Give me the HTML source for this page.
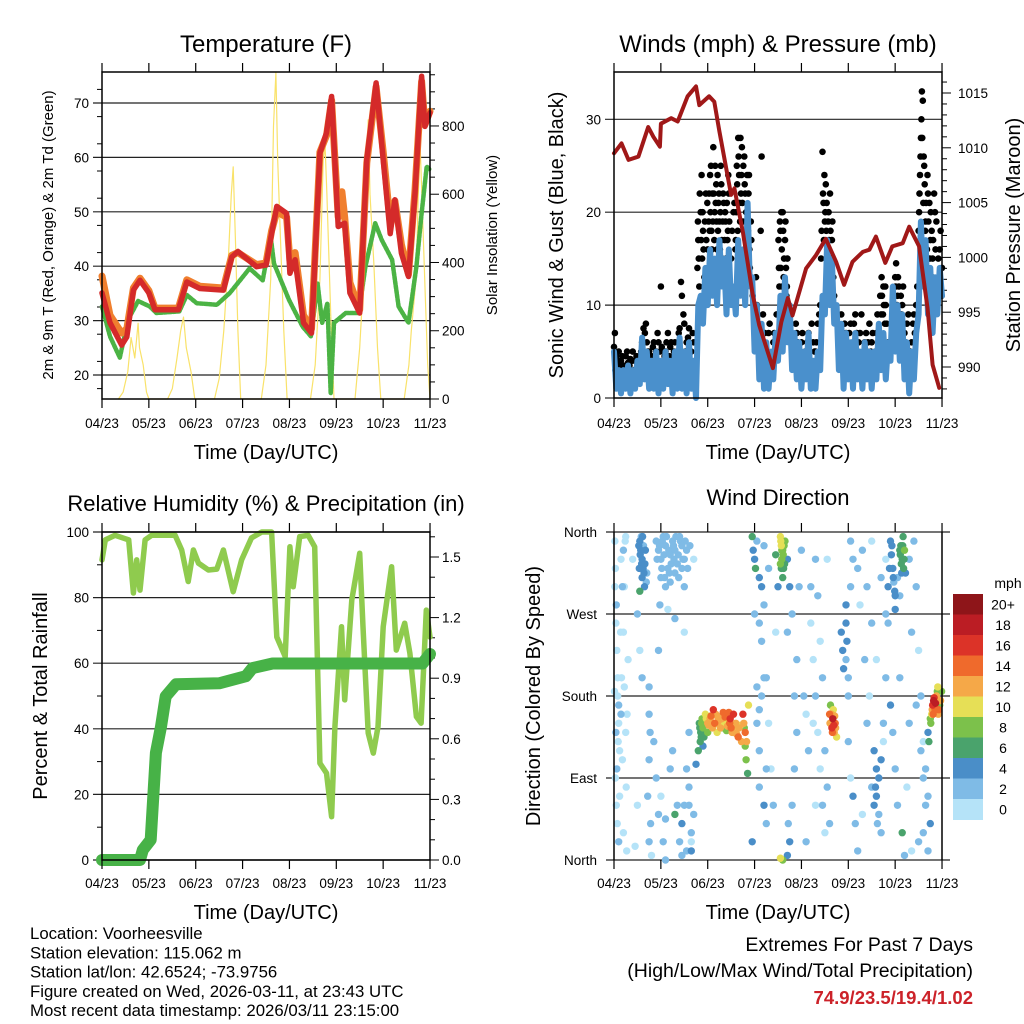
<!DOCTYPE html>
<html><head><meta charset="utf-8"><style>
html,body{margin:0;padding:0;background:#fff;}
svg{display:block;font-family:"Liberation Sans",sans-serif;}
</style></head><body>
<svg id="chart" width="1024" height="1024" viewBox="0 0 1024 1024" xmlns="http://www.w3.org/2000/svg"></svg>
<script>
// ---------- DATA ----------
const dayTicks = ["04/23","05/23","06/23","07/23","08/23","09/23","10/23","11/23"];
const tRedDay = [0,0.17,0.42,0.53,0.67,0.81,1.0,1.13,1.63,1.81,2.09,2.59,2.77,2.9,3.3,3.5,3.62,3.73,3.94,4.01,4.12,4.3,4.47,4.65,4.79,4.9,5.04,5.18,5.29,5.5,5.65,5.85,6.0,6.15,6.25,6.39,6.54,6.68,6.82,6.89,7.0];
const tRed = [35.1,29.6,25.5,27,35.6,37.4,35.1,32,32,37.1,35.9,35.6,41.7,42.7,39.9,40.2,46,51,49.7,38.7,41.2,29.6,27.7,60.8,64.5,71.2,47.3,47.9,35.1,31.4,59.6,73.7,59.6,46,52.2,42.4,38.1,53.4,74.9,65.7,68.2];
const tOrgDay = [0,0.17,0.42,0.53,0.67,0.81,1.0,1.13,1.63,1.81,2.09,2.59,2.77,2.9,3.3,3.5,3.62,3.73,3.94,4.01,4.12,4.3,4.47,4.65,4.79,4.9,5.04,5.12,5.18,5.29,5.5,5.65,5.85,6.0,6.15,6.25,6.39,6.54,6.68,6.82,6.89,7.0];
const tOrg = [38.2,31,27.7,28.5,36,37.8,35.5,32.3,32.3,37.5,36.3,36,42,42.5,40.3,40.6,46.5,50,49,41,42.5,31,28.5,61,64,70.5,49,53.7,49,37,32,59,73,61,48,52,44,38.5,54,74,66,68.5];
const tdDay = [0,0.17,0.38,0.56,0.77,1.02,1.16,1.65,1.81,2.02,2.45,2.73,3.15,3.43,3.6,3.67,3.99,4.28,4.46,4.6,4.7,4.81,4.88,4.95,5.2,5.48,5.62,5.83,5.97,6.19,6.33,6.54,6.71,6.82,6.93,7.0];
const td = [32.6,27.1,23.2,30.2,33.6,32.6,31.4,31.7,34.7,33.2,32.9,35.1,39.6,37.4,45.4,40.5,33.8,28.9,27.1,36.8,29.6,33.2,16.6,29.6,31.4,31.4,39.9,47.9,44.8,41.2,32.6,29.6,39.9,49.7,58.3,57.7];
const solDay = [0.35,0.45,0.55,0.62,0.7,0.77,0.8,0.88,0.95,1.0, 1.4,1.5,1.6,1.68,1.74,1.8,1.9,1.98, 2.4,2.5,2.6,2.7,2.76,2.8,2.85,2.9,2.96, 3.4,3.5,3.6,3.66,3.71,3.75,3.8,3.88,3.95, 4.45,4.55,4.65,4.72,4.76,4.8,4.88,4.95, 5.4,5.5,5.6,5.65,5.68,5.72,5.8,5.88,5.95, 6.45,6.55,6.6,6.7,6.75,6.79,6.85,6.9,6.95,7.0];
const sol = [0,20,80,180,120,222,150,100,20,0, 0,30,120,200,240,150,80,0, 0,60,200,420,600,680,450,200,0, 0,100,350,800,956,700,500,200,0, 0,100,350,700,740,600,250,0, 0,150,400,700,818,600,400,150,0, 0,100,200,350,600,740,500,300,100,0];
const windMph = [5,1,3,0.5,3,1,3.5,0.5,3,1,4,1.5,6.5,2,5,1,4,1,5,0.5,4,1,5,1.5,4,0.5,5,1,6.5,1,5,0.5,6,1,4,0,10,11,8,14,10,16,11,15,10,17,12,15,9,16,10,12,9,17,11,16,10,21,12,13,5,10,2,8,1,6,1,5,2,7,4,11,5,13,6,10,3,7,2,6,1,5,2,7,1,4,1,5,3,11,9,17,10,15,8,10,3,8,1,7,2,6,1,7,2,5,1,6,2,5,1,5,2,8,3,7,2,6,4,12,5,10,4,9,2,6,0.5,5,2,7,9,19,12,17,9,14,7,13,9,14,11];
const windStepDays = 0.05;
const gustDay = [0,0.02,0.05,0.1,0.15,0.2,0.25,0.3,0.35,0.4,0.45,0.5,0.55,0.6,0.63,0.66,0.7,0.75,0.8,0.85,0.9,0.95,1.0,1.02,1.08,1.12,1.15,1.2,1.25,1.3,1.35,1.4,1.43,1.45,1.5,1.55,1.6,1.65,1.7,1.78,1.8,1.82,1.85,1.88,1.9,1.93,1.96,2.0,2.02,2.05,2.08,2.1,2.12,2.15,2.18,2.2,2.23,2.25,2.28,2.3,2.33,2.35,2.38,2.4,2.43,2.45,2.5,2.55,2.6,2.62,2.65,2.68,2.7,2.72,2.75,2.78,2.8,2.83,2.85,2.88,2.9,2.93,2.96,3.0,3.03,3.05,3.1,3.13,3.15,3.18,3.2,3.25,3.3,3.35,3.4,3.45,3.5,3.52,3.55,3.58,3.6,3.62,3.65,3.68,3.7,3.75,3.8,3.85,3.9,3.95,4.0,4.05,4.1,4.15,4.2,4.25,4.3,4.35,4.4,4.42,4.45,4.47,4.5,4.52,4.55,4.58,4.6,4.65,4.7,4.75,4.8,4.85,4.9,4.95,5.0,5.05,5.1,5.15,5.2,5.25,5.3,5.35,5.4,5.45,5.5,5.55,5.6,5.7,5.72,5.75,5.78,5.8,5.85,5.9,5.95,6.0,6.02,6.05,6.08,6.1,6.15,6.2,6.25,6.3,6.35,6.4,6.45,6.5,6.52,6.54,6.56,6.57,6.58,6.6,6.62,6.65,6.7,6.75,6.8,6.85,6.9,6.95,7.0,
1.79,1.81,1.83,1.86,1.87,1.89,1.91,1.94,1.97,1.99,2.01,2.03,2.04,2.06,2.07,2.09,2.11,2.13,2.14,2.16,2.17,2.19,2.21,2.22,2.24,2.26,2.27,2.29,2.31,2.32,2.34,2.36,2.37,2.39,2.41,2.42,2.44,2.46,2.48,2.52,2.57,2.59,2.61,2.63,2.64,2.66,2.67,2.69,2.71,2.73,2.74,2.76,2.77,2.79,2.81,2.82,2.84,2.86,2.87,2.89,2.92,
3.51,3.53,3.54,3.56,3.57,3.59,3.61,3.63,3.64,3.66,3.67,3.69,
4.43,4.46,4.48,4.49,4.51,4.53,4.54,4.56,4.57,4.59,4.61,4.62,4.64,4.66,4.68,
5.68,5.71,5.74,5.76,5.79,5.82,5.98,6.01,6.04,6.06,6.09,6.12,6.14,6.17,
6.51,6.53,6.55,6.59,6.61,6.63,6.64,6.66,6.68,6.69,6.71,6.73,6.74,6.76,6.78,6.79,6.81,6.83,6.86,6.88,6.92,6.94,6.97,6.99,
0.03,0.08,0.12,0.18,0.23,0.28,0.33,0.38,0.43,0.48,0.52,0.58,0.68,0.72,0.78,0.83,0.88,0.93,0.98,1.05,1.1,1.18,1.22,1.28,1.33,1.38,1.48,1.52,1.58,1.63,1.68,
3.22,3.27,3.32,3.38,3.42,3.47,3.72,3.78,3.82,3.88,3.92,3.97,4.02,4.08,4.12,4.18,4.22,4.28,4.32,4.38,
4.72,4.78,4.82,4.88,4.92,4.98,5.02,5.08,5.12,5.18,5.22,5.28,5.32,5.38,5.42,5.48,5.52,5.58,5.62,6.22,6.28,6.32,6.38,6.42,6.47];
const gustMph = [5.5,7,4.5,5,4,3.5,4.5,3.8,4.2,5,4,3.5,4.5,6,7.5,7,6,5,4.5,6,5,6,12,5.5,4.5,6,7,5.5,4,6,5,7.5,12.5,11,8,6,7.5,5,6,14,17,12,20,15,18,13,22,16,19,24,18,22,27,20,23,16,21,19,25,17,22,14,19,13,18,22,15,20,17,25,28,21,28,24,19,26,22,15,20,24,14,17,11,8,13,10,6,18,26,9,5,4,7,3,6,5,9,14,18,16,20,13,17,11,15,8,6,5,7,4,6,3,5,7,4,6,5,8,10,15,26.5,21,19,23,16,20,14,17,11,8,6,9,5,7,4,8,6,9,5,7,4,6,5,8,6,4,7,9,11,12,8,10,6,5,9,13,14.5,11,12,9,10,7,8,4,6,9,10,18,22,26,30,33,28,21,25,19,22,17,15,20,12,16,14,
19,15,22,17,24,20,16,19,17,21,14,22,18,20,25,16,19,22,17,25,21,19,24,18,22,16,20,23,15,19,21,17,20,15,21,17,24,19,15,18,21,16,20,23,18,26,24,19,22,27,21,25,18,23,17,20,24,18,22,16,19,
17,12,19,14,20,12,18,15,11,19,14,12,
18,22,17,24,20,18,21,15,19,17,22,18,15,19,13,
11,13,9,10,12,8,11,12,10,13,8,11,9,12,
20,24,28,32,26,23,18,21,16,24,19,21,15,20,18,13,17,22,16,19,15,12,18,11,
3,4,3.5,4.5,3,5,3.5,4,3,4.5,3,5,8,5,4,5.5,4,7,5,4,5,4.5,6,5,4,7,9,5,6.5,4,7,
7,5,8,4,7,9,9,7,5,8,6,5,7,5,6,4,8,5,6,9,
9,8,7,6,8,6,7,5,8,7,6,9,5,7,6,5,7,5,9,6,9,5,8,7,12];
const presDay = [0,0.16,0.31,0.52,0.73,0.84,0.98,1.0,1.22,1.36,1.57,1.75,1.82,2.03,2.14,2.25,2.5,2.57,2.75,2.96,3.1,3.39,3.57,3.71,3.81,4.1,4.31,4.52,4.74,4.91,5.09,5.31,5.45,5.59,5.79,5.94,6.16,6.3,6.51,6.69,6.8,6.94];
const presMb = [1009.5,1010.4,1008.9,1009.2,1011.9,1011,1010.1,1012.2,1012.7,1012.4,1014.7,1015.6,1013.9,1014.7,1014.2,1011.5,1005.7,1006.3,1002.3,996.6,993.8,989.9,994.1,996.3,994.7,999,1000.2,1001.7,999.6,997.5,999.6,1000.5,1000.7,1001.9,999.5,1001,1001.3,1002.8,1001,995.4,990.2,988.1];
const rhDay = [0,0.07,0.28,0.57,0.67,0.74,0.81,0.92,1.06,1.56,1.7,1.84,1.95,2.06,2.27,2.45,2.59,2.8,2.98,3.19,3.41,3.62,3.73,3.91,4.01,4.08,4.22,4.4,4.54,4.65,4.79,4.9,4.97,5.11,5.18,5.33,5.5,5.57,5.68,5.79,5.89,6.0,6.18,6.28,6.46,6.57,6.71,6.81,6.92,7.0];
const rh = [91.5,97.6,99,97.6,81.4,91.5,82.3,97.6,99,99,94.5,84.9,94.5,90.5,88.4,88.7,94.5,81.8,91.5,98.2,100,100,68,62,95.5,83.3,98.6,99,95.5,29.5,26.5,13.2,40.6,71.1,48.8,79.3,93.5,71.1,38.7,32.6,40.6,71.1,89.4,64,72.2,63,43.7,41.7,76.2,68];
const prDay = [0,0.81,0.87,1.04,1.15,1.26,1.36,1.58,2.5,3.07,3.21,3.64,6.84,7.0];
const prIn = [0,0,0.05,0.1,0.53,0.66,0.81,0.87,0.875,0.91,0.95,0.973,0.973,1.02];
const dirDay = [0.02,0.03,0.05,0.08,0.1,0.04,0.12,0.06,0.15,0.18,0.2,0.22,0.25,0.05,0.1,0.27,0.3,0.15,0.2,0.25,
0.55,0.57,0.6,0.62,0.6,0.65,0.63,0.58,0.66,0.7,0.55,
0.5,0.55,0.6,0.75,0.75,0.77,0.75,0.72,0.78,0.75,0.8,0.5,0.45,0.4,
0.9,0.95,1.0,1.05,1.1,1.15,1.2,1.25,1.3,1.35,1.4,1.45,1.5,1.0,1.1,1.2,1.3,1.45,1.5,1.55,0.98,1.15,1.3,1.5,1.5,1.45,1.4,1.55,1.6,1.65,1.6,1.2,1.0,1.1,0.95,1.7,1.65,1.3,
1.82,1.85,1.84,1.88,1.9,1.92,1.95,2.0,2.05,2.1,2.12,2.15,2.2,2.25,2.3,2.35,2.4,2.45,2.48,2.5,2.55,2.6,2.65,2.7,2.72,2.75,2.78,2.8,2.82,2.85,2.87,2.0,2.2,2.4,2.3,1.8,1.9,1.75,
2.95,2.97,3.0,3.02,3.05,3.1,3.15,3.2,3.15,3.1,3.05,3.2,3.1,3.15,3.0,3.05,3.1,3.2,3.25,3.1,2.95,3.25,3.2,3.3,
3.55,3.57,3.6,3.58,3.62,3.55,3.65,3.6,3.5,3.45,3.7,3.75,3.8,3.7,3.6,3.55,3.7,3.75,3.72,3.8,3.85,3.9,3.85,3.9,3.95,4.0,
4.05,4.1,4.15,4.2,4.3,4.35,4.4,4.45,4.5,4.55,4.6,4.1,4.3,4.25,4.4,
4.6,4.63,4.65,4.67,4.7,4.72,4.68,4.75,4.62,
4.95,4.95,4.97,4.95,5.0,5.0,5.05,5.1,5.05,5.1,5.15,5.2,
5.3,5.4,5.5,5.6,5.55,5.6,5.65,5.6,5.65,5.7,5.75,5.5,5.7,5.8,5.8,5.4,5.3,
5.9,5.92,5.95,5.97,6.0,6.0,5.85,6.05,6.1,6.12,6.15,6.18,6.2,6.17,6.22,6.1,5.9,5.95,6.0,6.05,6.15,6.2,6.1,
6.3,6.35,6.45,6.55,6.6,6.65,6.6,6.7,6.7,6.75,6.78,6.8,6.82,6.85,6.88,6.9,6.92,6.95,6.72];
const dirDeg = [350,320,280,200,170,140,120,100,330,300,250,190,140,60,20,10,220,160,340,355,
350,340,330,320,310,300,345,355,325,315,295,
270,230,200,190,160,140,110,70,40,20,5,60,15,330,
350,340,330,355,345,320,335,350,340,325,355,345,330,310,300,305,315,320,300,340,280,275,265,250,60,40,20,10,80,30,140,100,70,45,230,330,20,50,
150,140,130,155,145,135,160,150,155,145,165,150,158,148,155,160,150,162,155,145,140,150,135,148,130,160,145,125,110,95,170,140,140,142,145,120,125,105,
355,340,330,320,350,310,300,345,180,165,190,200,260,240,270,150,120,60,40,80,20,100,280,320,
355,345,340,330,320,325,350,310,300,335,330,300,270,250,0,2,5,20,40,60,100,140,180,220,300,340,
180,160,120,260,330,290,240,200,120,80,40,20,60,150,100,
160,150,145,155,140,150,165,135,170,
280,260,240,220,200,180,300,330,350,70,40,10,
340,300,260,220,120,100,90,70,50,30,130,350,310,330,200,150,50,
350,335,320,305,290,275,260,310,340,345,330,320,340,355,315,290,170,140,100,60,30,5,200,
330,250,170,120,90,60,30,10,140,155,160,170,175,165,180,185,160,170,130];
const dirSpd = [1,1,2,1,2,2,1,2,1,2,1,1,1,1,2,1,1,2,2,1,
4,4,4,4,4,4,3,3,4,3,6,
2,1,2,3,3,3,2,2,2,2,1,1,1,1,
2,2,2,2,2,2,2,2,2,2,3,2,3,2,2,3,2,3,2,3,2,1,2,1,2,4,3,2,2,2,2,2,1,2,2,1,1,6,
7,7,6,8,8,7,11,12,13,12,16,14,12,11,13,12,10,14,16,14,13,12,14,11,12,17,8,9,8,6,10,8,10,8,8,6,5,4,
6,4,4,6,3,4,4,3,3,2,2,3,3,2,3,3,2,4,3,2,4,2,2,2,
10,10,9,8,7,9,8,6,4,6,4,4,3,2,9,10,4,4,3,2,2,2,3,2,2,2,
2,1,2,1,2,2,1,2,2,3,2,2,1,1,1,
14,12,16,18,12,14,11,10,8,
4,4,4,3,3,2,3,2,2,4,3,2,
2,2,2,1,4,4,4,4,2,2,1,1,2,1,2,2,1,
4,4,4,3,4,4,3,2,6,7,6,7,8,6,4,3,4,3,2,2,6,2,2,
3,2,2,3,2,2,2,2,4,8,10,16,18,14,12,8,12,8,6];
// additional wind-direction observations
const dirDayB = [0.02,0.04,0.06,0.08,0.1,0.03,0.07,0.12,0.14,0.16,0.18,0.2,0.22,0.24,0.26,0.28,0.01,0.09,
0.53,0.56,0.59,0.61,0.64,0.67,0.69,0.54,
0.92,0.97,1.02,1.07,1.12,1.17,1.22,1.27,1.32,1.37,1.42,1.47,1.52,1.57,1.62,1.03,1.08,1.18,1.28,1.38,
0.85,0.9,0.95,1.05,1.1,1.25,1.35,1.45,1.55,1.6,1.65,1.7,
3.25,3.3,3.35,3.4,3.45,4.2,4.25,4.3,4.35,4.45,4.5,4.55,4.85,4.88,4.9,5.0,5.05,5.2,5.25,5.35,5.45,5.5,5.55,5.58,5.62,5.7,5.75,5.8,5.85,5.88,6.4,6.45,6.5,6.55,6.6,6.65,6.7,6.75,6.5,6.35,6.25,6.3,
1.83,1.86,1.87,1.93,1.97,2.02,2.07,2.13,2.17,2.22,2.27,2.32,2.37,2.42,2.47,2.52,2.57,2.62,2.67,2.77,2.8,2.83,2.33,2.55,2.6,2.25,
4.61,4.64,4.66,4.69,4.71,4.73,
6.76,6.79,6.81,6.83,6.86,6.89,6.91,6.93,6.97,6.99,
3.56,3.58,3.61,3.63,3.57,3.64,
6.11,6.13,6.16,6.19,6.14,5.93,5.96,5.99];
const dirDegB = [300,260,230,180,150,90,40,70,250,200,110,30,300,350,80,160,185,130,
345,335,325,355,315,340,305,320,
330,345,320,335,355,340,325,345,355,335,350,330,350,320,345,350,310,315,330,310,
130,90,50,20,0,120,60,5,100,60,10,50,
200,150,100,60,250,300,220,180,140,60,30,330,250,230,210,130,90,320,280,220,180,80,60,80,40,110,150,270,300,320,350,300,230,180,130,100,70,40,20,10,80,150,
145,135,150,140,155,148,158,150,160,152,145,150,157,147,150,140,148,138,145,150,140,130,162,160,145,155,
150,160,140,148,158,145,
150,165,160,178,172,175,190,165,175,185,
350,340,335,345,320,325,
335,325,345,330,315,345,310,295];
const dirSpdB = [1,1,1,1,1,1,1,1,1,1,1,1,1,1,1,1,1,1,
4,4,4,4,4,4,3,4,
2,2,2,2,2,2,2,2,2,2,2,2,2,2,2,2,2,2,2,2,
3,2,2,3,2,2,3,2,3,3,4,2,
2,1,1,2,1,2,1,2,1,2,1,1,4,4,4,2,1,2,1,2,1,3,4,4,3,4,2,2,4,4,2,2,1,2,1,2,2,4,2,1,1,2,
6,7,8,7,10,12,14,12,13,12,12,11,14,12,15,12,12,13,12,12,14,12,15,16,10,10,
12,13,14,16,12,12,
8,12,14,16,18,12,10,14,12,8,
10,8,9,8,6,6,
6,6,7,6,4,4,4,4];
const spdColors = ["#b5e3f8","#7fbbe6","#4a8ec8","#4aa36c","#7cc14b","#e6df56","#f5a848","#ef6a2c","#dc3328","#bb1d24","#8e1519"];
const spdLabels = ["0","2","4","6","8","10","12","14","16","18","20+"];
const tempTicks = [20,30,40,50,60,70];
const solTicks = [0,200,400,600,800];
const windTicks = [0,10,20,30];
const presTicks = [990,995,1000,1005,1010,1015];
const rhTicks = [0,20,40,60,80,100];
const prTicks = ["0.0","0.3","0.6","0.9","1.2","1.5"];
const dirLabels = ["North","East","South","West","North"];

// ---------- DRAWING ----------
const NS = "http://www.w3.org/2000/svg";
const svg = document.getElementById('chart');
function mk(tag, attrs, parent){
  const e = document.createElementNS(NS, tag);
  for (const k in attrs) e.setAttribute(k, attrs[k]);
  (parent||svg).appendChild(e);
  return e;
}
function txt(str, x, y, size, anchor, parent, extra){
  const t = mk('text', Object.assign({x:x, y:y, 'font-size':size, 'text-anchor':anchor||'middle', fill:'#000'}, extra||{}), parent);
  t.textContent = str;
  return t;
}
const DAYPX = 46.86;
function line(x1,y1,x2,y2,parent,w,c){ return mk('line',{x1:x1,y1:y1,x2:x2,y2:y2,stroke:c||'#000','stroke-width':w||1},parent); }
function poly(xs, ys, fx, fy, parent, color, width){
  const pts = xs.map((d,i)=> fx(d).toFixed(1)+','+fy(ys[i]).toFixed(1)).join(' ');
  return mk('polyline',{points:pts, fill:'none', stroke:color, 'stroke-width':width, 'stroke-linejoin':'round','stroke-linecap':'round'}, parent);
}
function xAxis(g, x0, y0, y1, labelY, titleY){
  for (let i=0;i<dayTicks.length;i++){
    const x = x0 + i*DAYPX;
    line(x,y0-9,x,y0,g,1.2);
    line(x,y1,x,y1+9,g,1.2);
    const t = txt(dayTicks[i], x, labelY, 13.5, 'middle', g);
    
    
  }
  const tt = txt('Time (Day/UTC)', x0+164, titleY, 20, 'middle', g);
  
  
}
function frame(g,x0,y0,x1,y1){
  mk('rect',{x:x0,y:y0,width:x1-x0,height:y1-y0,fill:'none',stroke:'#000','stroke-width':1.5},g);
}

// ===== Panel 1: Temperature =====
(function(){
  const g = mk('g',{});
  
  
  const x0=102,x1=430,y0=72,y1=399;
  const fx = d=> x0 + d*DAYPX;
  const fy = t=> 103 + (70-t)*5.44;
  const fs = w=> 399 - w*0.3413;
  tempTicks.forEach(t=>{ line(x0-9,fy(t),x1,fy(t),g,1.2,'#222'); const l=txt(String(t), x0-13, fy(t)+5, 13.5, 'end', g);   });
  for (let t=17.5;t<76;t+=5){ if (t%10!==0) line(x0-5,fy(t),x0,fy(t),g,1); }
  for (let w=0; w<=950; w+=50){ const L = (w%200===0)?9:5; line(x1,fs(w),x1+L,fs(w),g,1); }
  solTicks.forEach(w=>{ const l=txt(String(w), x1+12, fs(w)+5, 13.5, 'start', g);   });
  const sl = poly(solDay, sol, fx, fs, g, '#f9e26a', 1.2);
  
  
  const tdl = poly(tdDay, td, fx, fy, g, '#4bb344', 4.5);
  tdl.setAttribute('stroke-dasharray','3 1.5');
  
  
  const ol = poly(tOrgDay, tOrg, fx, fy, g, '#f07f2e', 7);
  
  
  const rl = poly(tRedDay, tRed, fx, fy, g, '#d42a2a', 5.5);
  
  
  frame(g,x0,y0,x1,y1);
  xAxis(g,x0,y0,y1,428,459);
  const t1 = txt('Temperature (F)', 266, 52, 24, 'middle', g);
  
  
  const yl = txt('2m & 9m T (Red, Orange) & 2m Td (Green)', 0, 0, 15, 'middle', g, {transform:'translate(53,235) rotate(-90)'});
  
  
  const yr = txt('Solar Insolation (Yellow)', 0, 0, 15, 'middle', g, {transform:'translate(497,235) rotate(-90)'});
  
  
})();

// ===== Panel 2: Winds & Pressure =====
(function(){
  const g = mk('g',{});
  
  
  const x0=614,x1=942,y0=72,y1=398;
  const fx = d=> x0 + d*DAYPX;
  const fy = w=> 398 - w*9.29;
  const fp = p=> 93 + (1015-p)*10.96;
  windTicks.forEach(w=>{ line(x0-9,fy(w),(w===0?x0:x1),fy(w),g,1.2,'#222'); const l=txt(String(w), x0-13, fy(w)+5, 13.5, 'end', g);   });
  for (let p=988;p<=1016;p++){ const L=(p%5===0)?9:5; line(x1,fp(p),x1+L,fp(p),g,1); }
  presTicks.forEach(p=>{ const l=txt(String(p), x1+16, fp(p)+5, 13.5, 'start', g);   });
  const gg = mk('g',{},g);
  
  
  gustDay.forEach((d,i)=>{ const c = mk('circle',{cx:fx(d).toFixed(1), cy:fy(gustMph[i]).toFixed(1), r:3.3, fill:'#000'},gg);   });
  const windDay = windMph.map((v,i)=> i*windStepDays);
  const wl = poly(windDay, windMph, fx, fy, g, '#4a90cc', 6);
  
  
  const pl = poly(presDay, presMb, fx, fp, g, '#a01818', 4);
  
  
  frame(g,x0,y0,x1,y1);
  xAxis(g,x0,y0,y1,428,459);
  const t1 = txt('Winds (mph) & Pressure (mb)', 778, 52, 24, 'middle', g);
  
  
  const yl = txt('Sonic Wind & Gust (Blue, Black)', 0, 0, 20, 'middle', g, {transform:'translate(563,235) rotate(-90)'});
  
  
  const yr = txt('Station Pressure (Maroon)', 0, 0, 20, 'middle', g, {transform:'translate(1020,235) rotate(-90)'});
  
  
})();

// ===== Panel 3: RH & Precip =====
(function(){
  const g = mk('g',{});
  
  
  const x0=102,x1=430,y0=532,y1=860;
  const fx = d=> x0 + d*DAYPX;
  const fy = r=> 860 - r*3.28;
  const fp = p=> 860 - p*202;
  rhTicks.forEach(r=>{ line(x0-9,fy(r),x1,fy(r),g,1.2,'#222'); const l=txt(String(r), x0-13, fy(r)+5, 13.5, 'end', g);   });
  for (let r=10;r<100;r+=20) line(x0-5,fy(r),x0,fy(r),g,1);
  for (let k=0;k<=16;k++){ const L=(k%3===0)?9:5; line(x1,fp(k/10),x1+L,fp(k/10),g,1); }
  prTicks.forEach(s=>{ const l=txt(s, x1+12, fp(parseFloat(s))+5, 13.5, 'start', g);   });
  const rl = poly(rhDay, rh, fx, fy, g, '#8fcb4e', 5.5);
  
  
  const pl = poly(prDay, prIn, fx, fp, g, '#47b247', 12);
  
  
  frame(g,x0,y0,x1,y1);
  xAxis(g,x0,y0,y1,888,919);
  const t1 = txt('Relative Humidity (%) & Precipitation (in)', 266, 511, 22, 'middle', g);
  
  
  const yl = txt('Percent & Total Rainfall', 0, 0, 20, 'middle', g, {transform:'translate(47,696) rotate(-90)'});
  
  
})();

// ===== Panel 4: Wind Direction =====
(function(){
  const g = mk('g',{});
  
  
  const x0=614,x1=942,y0=532,y1=860;
  const fx = d=> x0 + d*DAYPX;
  const fy = a=> 860 - a*0.9111;
  dirLabels.forEach((s,i)=>{ const y=fy(i*90); line(x0-8,y,x1+8,y,g,1.2,'#222'); const l=txt(s, x0-17, y+5, 13.5, 'end', g);   });
  const pg = mk('g',{},g);
  
  
  const allDay = dirDayB.concat(dirDay);
  const allDeg = dirDegB.concat(dirDeg);
  const allSpd = dirSpdB.concat(dirSpd);
  const order = allDay.map((d,i)=>i).sort((a,b)=>allSpd[a]-allSpd[b]);
  order.forEach(i=>{
    const bin = Math.min(10, Math.floor(allSpd[i]/2));
    const c = mk('circle',{cx:fx(allDay[i]).toFixed(1), cy:fy(allDeg[i]).toFixed(1), r:3.7, fill:spdColors[bin]},pg);
    
    
  });
  line(x0,y0,x0,y1,g,1.5); line(x1,y0,x1,y1,g,1.5);
  xAxis(g,x0,y0,y1,888,919);
  const t1 = txt('Wind Direction', 778, 505, 22, 'middle', g);
  
  
  const yl = txt('Direction (Colored By Speed)', 0, 0, 20, 'middle', g, {transform:'translate(540,696) rotate(-90)'});
  
  
  const cb = mk('g',{},g);
  
  
  const bh = 20.5, top = 594;
  for (let i=0;i<11;i++){
    const idx = 10-i;
    const r = mk('rect',{x:953,y:(top+i*bh).toFixed(1),width:30,height:bh+0.5,fill:spdColors[idx]},cb);
    
    
    const l = txt(spdLabels[idx], 1003, top+i*bh+bh/2+5, 14, 'middle', cb);
    
    
  }
  const ml = txt('mph', 1008, 588, 14, 'middle', cb);
  
  
})();

// ===== Footer text =====
(function(){
  const g = mk('g',{});
  
  
  const lines = ["Location: Voorheesville","Station elevation: 115.062 m","Station lat/lon: 42.6524; -73.9756","Figure created on Wed, 2026-03-11, at 23:43 UTC","Most recent data timestamp: 2026/03/11 23:15:00"];
  lines.forEach((s,i)=>{ const t=txt(s, 30, 939+i*19.3, 16.8, 'start', g);   });
  const h = mk('g',{});
  
  
  const a = txt('Extremes For Past 7 Days', 973, 951, 19.5, 'end', h);
  
  
  const b = txt('(High/Low/Max Wind/Total Precipitation)', 973, 977, 19.5, 'end', h);
  
  
  const c = txt('74.9/23.5/19.4/1.02', 973, 1004, 18.5, 'end', h, {fill:'#cc2229','font-weight':'bold'});
  
  
})();
</script>
</body></html>
